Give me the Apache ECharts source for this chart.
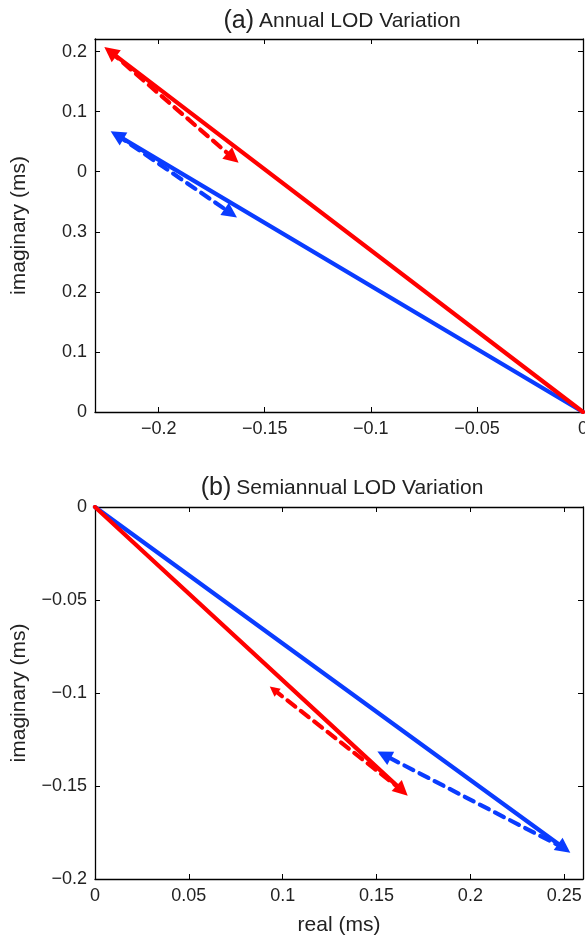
<!DOCTYPE html>
<html>
<head>
<meta charset="utf-8">
<script src="https://cdn.jsdelivr.net/npm/echarts@6/dist/echarts.min.js"></script>
<style>
html,body{margin:0;padding:0;background:#fff;}
#chart{width:585px;height:939px;}
</style>
</head>
<body>
<div id="chart"></div>
<script>
// ---- data (a) Annual ----
var annualRedSolid   = [[0, 0], [-0.2228, 0.600]];
var annualRedDashed  = [[-0.2228, 0.600], [-0.165, 0.423]];
var annualBlueSolid  = [[0, 0], [-0.2196, 0.461]];
var annualBlueDashed = [[-0.2196, 0.461], [-0.166, 0.331]];
// ---- data (b) Semiannual ----
var semiRedSolid   = [[0, 0], [0.1637, -0.1525]];
var semiRedDashed  = [[0.1637, -0.1525], [0.0952, -0.0982]];
var semiBlueSolid  = [[0, 0], [0.250, -0.1835]];
var semiBlueDashed = [[0.250, -0.1835], [0.154, -0.1333]];

// ---- ticks ----
var topXTicks  = [-0.2, -0.15, -0.1, -0.05, 0];
var topXLabels = ['\u22120.2', '\u22120.15', '\u22120.1', '\u22120.05', '0'];
var topYTicks  = [0, 0.1, 0.2, 0.3, 0.4, 0.5, 0.6];
var topYLabels = ['0', '0.1', '0.2', '0.3', '0', '0.1', '0.2'];
var botXTicks  = [0, 0.05, 0.1, 0.15, 0.2, 0.25];
var botXLabels = ['0', '0.05', '0.1', '0.15', '0.2', '0.25'];
var botYTicks  = [-0.2, -0.15, -0.1, -0.05, 0];
var botYLabels = ['\u22120.2', '\u22120.15', '\u22120.1', '\u22120.05', '0'];

var FONT = '"Liberation Sans", Arial, sans-serif';
var TXT = '#222';
var RED = '#ff0000', BLUE = '#0a3cff';

function fmt(ticks, labels) {
  return function (v) {
    for (var i = 0; i < ticks.length; i++) {
      if (Math.abs(ticks[i] - v) < 1e-9) return labels[i];
    }
    return '';
  };
}

function axis(dim, gridIndex, pos, min, max, ticks, labels, showLabels, name) {
  var a = {
    type: 'value', gridIndex: gridIndex, position: pos, min: min, max: max,
    splitLine: {show: false},
    axisLine: {show: true, onZero: false, lineStyle: {color: '#000', width: 1.3}},
    axisTick: {show: true, inside: true, length: 5, customValues: ticks, lineStyle: {color: '#000', width: 1}},
    axisLabel: {show: showLabels, customValues: ticks, formatter: fmt(ticks, labels),
                color: TXT, fontSize: 18, fontFamily: FONT, margin: 8}
  };
  if (name) {
    a.name = name;
    a.nameLocation = 'middle';
    a.nameTextStyle = {color: TXT, fontSize: 21, fontFamily: FONT};
    a.nameGap = dim === 'y' ? 65 : 36;
  }
  return a;
}

function seg(coords, color, dashed, x, y, head) {
  return {
    type: 'lines', coordinateSystem: 'cartesian2d', xAxisIndex: x, yAxisIndex: y,
    symbol: ['none', 'triangle'], symbolSize: head || [10, 15],
    lineStyle: {color: color, width: 4.2, type: dashed ? [10, 7] : 'solid', opacity: 1, curveness: 0, cap: 'round'},
    itemStyle: {color: color},
    data: [{coords: coords}],
    silent: true, animation: false
  };
}

var titleRich = {
  a: {fontSize: 25, color: TXT, fontFamily: FONT, fontWeight: 'normal'},
  b: {fontSize: 21, color: TXT, fontFamily: FONT, fontWeight: 'normal'}
};

var chart = echarts.init(document.getElementById('chart'), null, {renderer: 'canvas'});
chart.setOption({
  backgroundColor: '#fff',
  animation: false,
  title: [
    {text: '{a|(a)} {b|Annual LOD Variation}', left: 337, top: 4, textAlign: 'center',
     textStyle: {fontWeight: 'normal', rich: titleRich}},
    {text: '{a|(b)} {b|Semiannual LOD Variation}', left: 337, top: 471, textAlign: 'center',
     textStyle: {fontWeight: 'normal', rich: titleRich}}
  ],
  grid: [
    {left: 95, top: 39, right: 2, height: 373, containLabel: false, outerBoundsMode: 'none'},
    {left: 95, top: 507, right: 2, height: 372, containLabel: false, outerBoundsMode: 'none'}
  ],
  xAxis: [
    axis('x', 0, 'bottom', -0.23, 0, topXTicks, topXLabels, true, null),
    axis('x', 0, 'top', -0.23, 0, topXTicks, topXLabels, false, null),
    axis('x', 1, 'bottom', 0, 0.26, botXTicks, botXLabels, true, 'real (ms)'),
    axis('x', 1, 'top', 0, 0.26, botXTicks, botXLabels, false, null)
  ],
  yAxis: [
    axis('y', 0, 'left', 0, 0.621, topYTicks, topYLabels, true, 'imaginary (ms)'),
    axis('y', 0, 'right', 0, 0.621, topYTicks, topYLabels, false, null),
    axis('y', 1, 'left', -0.2, 0, botYTicks, botYLabels, true, 'imaginary (ms)'),
    axis('y', 1, 'right', -0.2, 0, botYTicks, botYLabels, false, null)
  ],
  series: [
    seg(annualBlueSolid, BLUE, false, 0, 0),
    seg(annualBlueDashed, BLUE, true, 0, 0),
    seg(annualRedSolid, RED, false, 0, 0),
    seg(annualRedDashed, RED, true, 0, 0),
    seg(semiBlueSolid, BLUE, false, 2, 2),
    seg(semiBlueDashed, BLUE, true, 2, 2),
    seg(semiRedSolid, RED, false, 2, 2),
    seg(semiRedDashed, RED, true, 2, 2, [8, 10])
  ]
});
</script>
</body>
</html>
